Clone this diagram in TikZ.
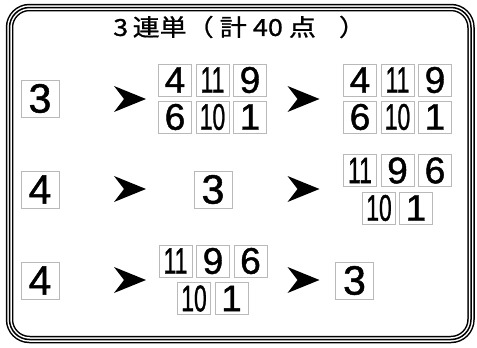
\documentclass[tikz,border=0pt]{standalone}
\usepackage{fontspec}
\usepackage{graphicx}
\setmainfont{Liberation Sans}
\newfontfamily\digitfont[FakeBold=1.2]{Liberation Sans}
\newfontfamily\cjk[FakeBold=0.8]{Noto Sans CJK JP}
\newcommand{\pair}[1]{\scalebox{0.62}[1]{#1}}

\tikzset{
  numbox/.style={draw=gray!55, line width=0.8pt, minimum width=33pt, minimum height=32pt,
    inner sep=0pt, font=\digitfont\fontsize{37}{37}\selectfont},
  bigbox/.style={numbox, minimum width=38pt, minimum height=37pt, font=\digitfont\fontsize{41}{41}\selectfont},
  pics/pointer/.style={code={\fill (16,0) -- (-16,-13) -- (-6,0) -- (-16,13) -- cycle;}}
}

\begin{document}
\begin{tikzpicture}[x=1pt,y=-1pt]
    \useasboundingbox (0,0) rectangle (477,348);
    % frame
    \def\frameBox{(9.5,7.5) rectangle (471,339.5)}
    \draw[line width=7.5pt, rounded corners=20pt] \frameBox;
    \draw[white, line width=4.5pt, rounded corners=20pt] \frameBox;
    \draw[line width=1.5pt, rounded corners=20pt] \frameBox;
    \node[anchor=west, inner sep=0pt] (title) at (113,27)
      {\scalebox{1.15}[1]{\cjk\fontsize{23.5}{23.5}\selectfont 3\,連単（ 計 40 点\hspace{20pt}）}};

    % first row
    \node[bigbox] (a1) at (40,98.5) {3};
    \pic at (130,99) {pointer};
    \node[numbox] (b11) at (175,80) {4};
    \node[numbox] (b12) at (212.5,80) {\pair{11}};
    \node[numbox] (b13) at (250,80) {9};
    \node[numbox] (b14) at (175,117) {6};
    \node[numbox] (b15) at (212.5,117) {\pair{10}};
    \node[numbox] (b16) at (250,117) {1};
    \pic at (303.5,99) {pointer};
    \node[numbox] (c11) at (360,80) {4};
    \node[numbox] (c12) at (397.5,80) {\pair{11}};
    \node[numbox] (c13) at (435,80) {9};
    \node[numbox] (c14) at (360,117) {6};
    \node[numbox] (c15) at (397.5,117) {\pair{10}};
    \node[numbox] (c16) at (435,117) {1};

    % second row
    \node[bigbox] (a2) at (40,189.5) {4};
    \pic at (130,189) {pointer};
    \node[bigbox] (b2) at (213,189.5) {3};
    \pic at (303.5,189) {pointer};
    \node[numbox] (c21) at (360,170.5) {\pair{11}};
    \node[numbox] (c22) at (397.5,170.5) {9};
    \node[numbox] (c23) at (435,170.5) {6};
    \node[numbox] (c24) at (379,208) {\pair{10}};
    \node[numbox] (c25) at (416,208) {1};

    % third row
    \node[bigbox] (a3) at (40,280.5) {4};
    \pic at (130,280) {pointer};
    \node[numbox] (b31) at (175.5,261) {\pair{11}};
    \node[numbox] (b32) at (213,261) {9};
    \node[numbox] (b33) at (250.5,261) {6};
    \node[numbox] (b34) at (194,298.5) {\pair{10}};
    \node[numbox] (b35) at (231.5,298.5) {1};
    \pic at (303.5,280) {pointer};
    \node[bigbox] (c3) at (354.5,280.5) {3};
\end{tikzpicture}
\end{document}
